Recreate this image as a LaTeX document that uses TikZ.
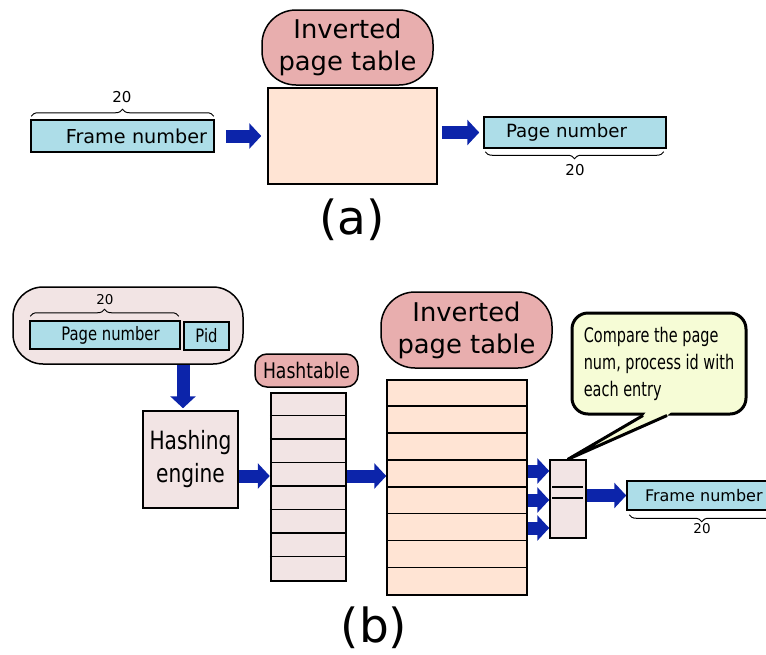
\documentclass[tikz,border=0pt]{standalone}
\usepackage{fontspec}
\setmainfont{DejaVu Sans}
\newfontfamily\narrowfont[FakeStretch=0.8]{DejaVu Sans}
\newfontfamily\slimfont[FakeStretch=0.72]{DejaVu Sans}
\usetikzlibrary{arrows.meta,calc,decorations.pathreplacing}

\definecolor{tagpink}{RGB}{232,174,174}
\definecolor{peach}{RGB}{255,228,212}
\definecolor{fieldblue}{RGB}{173,221,232}
\definecolor{boxpink}{RGB}{242,228,228}
\definecolor{noteyellow}{RGB}{246,252,214}
\definecolor{arrowblue}{RGB}{12,36,170}

\tikzset{
  tag/.style={draw, fill=tagpink, line width=1.5, rounded corners=34, inner sep=0, align=center},
  field/.style={draw, fill=fieldblue, line width=1.5, inner ysep=0},
  tablebox/.style={draw, fill=peach, line width=1.5, inner sep=0},
  pinkbox/.style={draw, fill=boxpink, line width=1.5, inner sep=0},
  fatarrow/.style={draw=arrowblue, line width=13, -{Triangle[length=12,width=25]}},
  bracemark/.style={decorate, decoration={brace, amplitude=7}, line width=1},
  bits/.style={inner sep=0, font=\fontsize{15}{17}\selectfont},
  partlabel/.style={inner sep=0, font=\fontsize{47}{52}\selectfont},
}

\begin{document}
\begin{tikzpicture}[x=1pt, y=-1pt]
\useasboundingbox (0,0) rectangle (766,654);

% (a)
\node [tag, minimum width=171, minimum height=75, font=\fontsize{25.8}{32}\selectfont] (tagA) at (347.5,47.5) {Inverted\\page table};
\node [tablebox, minimum width=169, minimum height=96] (tableA) at (352.5,136) {};
\node [field, minimum height=32, text width=169, inner xsep=7, align=right, font=\fontsize{19.2}{23}\selectfont] (fnA) at (122.5,136) {Frame number};
\node [field, minimum height=31, text width=138, inner xsep=22, align=left, font=\fontsize{18.2}{22}\selectfont] (pnA) at (575,132.5) {Page number};
\draw [bracemark] ($(fnA.north west)+(1,-3)$) -- ($(fnA.north east)+(-1,-3)$);
\node [bits] (bitsA1) at (122,97) {20};
\draw [bracemark] ($(pnA.south east)+(-3,3)$) -- ($(pnA.south west)+(2,3)$);
\node [bits] (bitsA2) at (575,170) {20};
\draw [fatarrow, shorten <=11, shorten >=6] (fnA.east) -- (tableA.west |- fnA.east);
\draw [fatarrow, shorten <=4, shorten >=4] (tableA.east |- pnA.west) -- (pnA.west);
\node [partlabel] (partA) at (352,220) {(a)};

% (b)
\node [pinkbox, rounded corners=30, minimum width=230, minimum height=77] (keyB) at (128,325.5) {};
\node [field, inner xsep=0, minimum width=150, minimum height=28, font=\narrowfont\fontsize{18.5}{22}\selectfont] (pnB) at (105,335) {\hspace{11pt}Page number};
\node [field, inner xsep=0, minimum width=45, minimum height=28, font=\narrowfont\fontsize{18.5}{22}\selectfont] (pidB) at (206.5,336) {Pid};
\draw [bracemark] ($(pnB.north west)+(1,-4)$) -- ($(pnB.north east)+(-2,-4)$);
\node [bits, font=\fontsize{13.5}{15}\selectfont] (bitsB1) at (105,300) {20};

\node [pinkbox, minimum width=95, minimum height=97, align=center, font=\narrowfont\fontsize{25.2}{33}\selectfont] (hashB) at (190.5,459.5) {Hashing\\engine};
\coordinate (drop) at (183,0);
\draw [fatarrow, shorten >=2] (keyB.south -| drop) -- (drop |- hashB.north);

\node [tag, rounded corners=12, minimum width=103, minimum height=33, font=\narrowfont\fontsize{21.5}{24}\selectfont] (htag) at (306.5,370.5) {Hashtable};
\node [pinkbox, line width=2.5, minimum width=75, minimum height=188] (htab) at (308.5,487) {};
\foreach \r in {1,...,7}
  \draw [line width=1.5] ($(htab.north west)+(0,23.5*\r)$) -- ++(77,0);
\draw [line width=2.5] ($(htab.north west)+(0,94)$) -- ++(75,0);

\node [tag, minimum width=171, minimum height=76, font=\fontsize{25.8}{32}\selectfont] (itag) at (466.5,330) {Inverted\\page table};
\node [tablebox, minimum width=140, minimum height=215] (itab) at (457,487.5) {};
\foreach \r in {1,...,7}
  \draw [line width=1.5] ($(itab.north west)+(0,26.875*\r)$) -- ++(140,0);

\coordinate (hrow) at (0,476);
\draw [fatarrow] (hashB.east |- hrow) -- (htab.west |- hrow);
\draw [fatarrow] (htab.east |- hrow) -- (itab.west |- hrow);

\node [pinkbox, minimum width=36, minimum height=78] (cmp) at (568,499) {};
\draw [line width=1.5] ($(cmp.west)+(3,-12)$) -- ($(cmp.east)+(-4,-12)$);
\draw [line width=1.5] ($(cmp.west)+(3,-1)$) -- ($(cmp.east)+(-4,-1)$);
\foreach \dy in {-28,1,29}
  \draw [fatarrow] ($(itab.east |- cmp.west)+(0,\dy)$) -- ($(cmp.west)+(0,\dy)$);

\node [field, minimum height=29, text width=130, inner xsep=18, align=left, font=\fontsize{16}{19}\selectfont] (fnB) at (710,495.5) {Frame number};
\draw [fatarrow] (cmp.east |- fnB.west) -- (fnB.west);
\draw [bracemark] ($(fnB.south west)+(148,4)$) -- ($(fnB.south west)+(3,4)$);
\node [bits, font=\fontsize{13.5}{15}\selectfont] (bitsB2) at (702,529) {20};

\node [draw, fill=noteyellow, line width=3, rounded corners=16, minimum width=174, minimum height=101, inner xsep=8, align=left, font=\slimfont\fontsize{20.1}{27}\selectfont] (note) at (659,363.5) {Compare the page\\num, process id with\\each entry};
\fill [noteyellow] ($(note.south)+(-12,-5)$) -- ($(note.south)+(-17,2)$) -- (cmp.north) -- ($(note.south)+(6,2)$) -- ($(note.south)+(14,-5)$) -- cycle;
\draw [line width=3, line join=round] ($(note.south)+(-16,0)$) -- (cmp.north) -- ($(note.south)+(8,0)$);

\node [partlabel] (partB) at (374,628) {(b)};
\end{tikzpicture}
\end{document}
